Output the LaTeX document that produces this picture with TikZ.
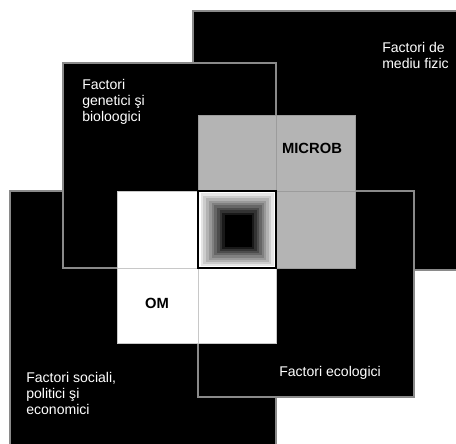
\documentclass[tikz,border=0pt]{standalone}
\usepackage{fontspec}
\setsansfont{Liberation Sans}
\definecolor{Canvas}{HTML}{FFFFFF}
\definecolor{Frame}{HTML}{8A8A8A}
\definecolor{MicrobGray}{HTML}{B4B4B4}
\definecolor{CellLine}{HTML}{9C9C9C}
\definecolor{OmLine}{HTML}{C8C8C8}
\tikzset{factor/.style={fill=black,draw=Frame,line width=0.8pt},factorlabel/.style={anchor=west,align=left,inner sep=0pt,text=white,font=\sffamily\fontsize{10}{11.4}\selectfont},microbcell/.style={fill=MicrobGray,draw=CellLine,line width=0.6pt},omcell/.style={fill=white,draw=OmLine,line width=0.6pt},hostlabel/.style={inner sep=0pt,text=black,font=\sffamily\bfseries\fontsize{10.5}{12}\selectfont}}

\begin{document}
\begin{tikzpicture}[x=1cm,y=1cm]
\useasboundingbox (0,0) rectangle (11.4,11.075);
\clip (0,0) rectangle (11.4,11.075);
\fill[Canvas] (0,0) rectangle (11.4,11.075);
% the four factor fields, back to front
\draw[factor] (0.25,-0.5) rectangle (6.9,6.3);
\draw[factor] (4.825,4.325) rectangle (12,10.8);
\draw[factor] (1.575,4.375) rectangle (6.9,9.5);
\draw[factor] (4.95,1.15) rectangle (10.35,6.3);
% microb cells
\draw[microbcell] (4.95,6.3) rectangle (6.9,8.2);
\draw[microbcell] (6.9,6.3) rectangle (8.875,8.2);
\draw[microbcell] (6.9,4.375) rectangle (8.875,6.3);
% om cells
\draw[omcell] (2.925,4.375) rectangle (4.95,6.3);
\draw[omcell] (2.925,2.5) rectangle (4.95,4.375);
\draw[omcell] (4.95,2.5) rectangle (6.9,4.375);
% centre: interaction
\foreach \i in {0,...,10}{
  \pgfmathtruncatemacro\tone{10*\i}
  \fill[black!\tone] ({4.95+0.0675*\i},{4.375+0.0525*\i}) rectangle ({6.9-0.06*\i},{6.3-0.06*\i});
}
\draw[black,line width=1.4pt] (4.95,4.375) rectangle (6.9,6.3);
\node[factorlabel] (fizic) at (9.55,9.7) {Factori de\\mediu fizic};
\node[factorlabel] (genetic) at (2.05,8.525) {Factori\\genetici şi\\bioloogici};
\node[factorlabel] (social) at (0.65,1.25) {Factori sociali,\\politici şi\\economici};
\node[factorlabel] (ecologic) at (6.975,1.75) {Factori ecologici};
\node[hostlabel] (microb) at (7.8,7.375) {MICROB};
\node[hostlabel] (om) at (3.925,3.5) {OM};
\end{tikzpicture}
\end{document}
